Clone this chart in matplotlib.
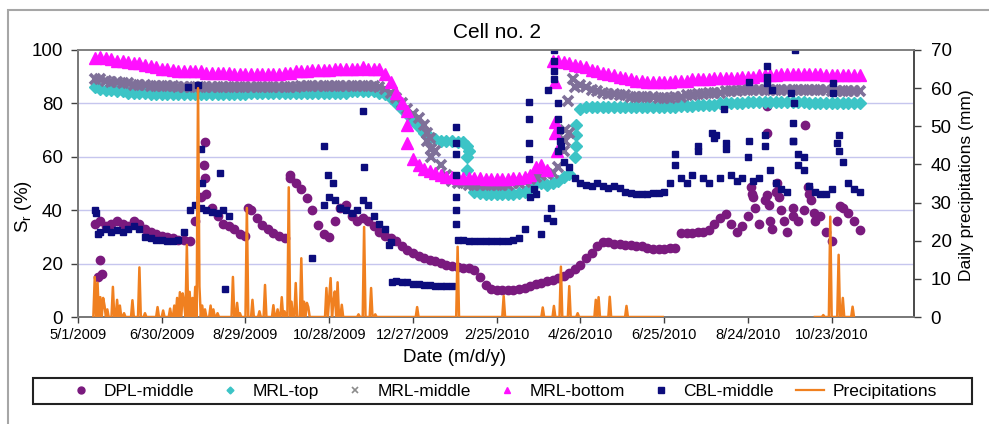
import numpy as np
import matplotlib
matplotlib.use("Agg")
import matplotlib.pyplot as plt
import pandas as pd
from matplotlib.lines import Line2D
from matplotlib.patches import Rectangle

plt.rcParams['font.family'] = ['Liberation Sans', 'DejaVu Sans']

# ---------------- data ----------------
START = pd.Timestamp('2009-05-01')
tick_days = [0, 60, 120, 180, 240, 300, 360, 420, 480, 540]
tick_labels = [f"{d.month}/{d.day}/{d.year}" for d in (START + pd.to_timedelta(tick_days, unit='D'))]
left_ticks = [0, 20, 40, 60, 80, 100]
right_ticks = [0, 10, 20, 30, 40, 50, 60, 70]

# sample days (days since 5/1/2009), every 4 days
sample_days = np.arange(12, 561, 4)

dpl_middle = [
    35, 36, 34, 35, 36, 35, 34, 36, 35, 33,
    32, 31, 30.5, 30, 29.5, 29, 29, 28.5, 36, 45,
    46, 41, 38, 35, 34, 33, 31, 30.5, 40, 37,
    34.5, 33, 31.5, 30.5, 29.5, 52, 50, 48, 44.5, 40,
    34.5, 31, 30, 36, 41, 42, 38, 36, 37, 36,
    34, 32, 30.5, 29.5, 28.5, 26.5, 25, 24, 23, 22,
    21.3, 20.8, 20.2, 19.6, 19.1, 18.7, 18.4, 18.2, 17.5, 15,
    12, 10.5, 10, 10, 10, 10.2, 10.5, 11, 11.5, 12.2,
    12.7, 13.3, 13.9, 14.5, 15.5, 16.5, 18, 19.5, 22, 24,
    26.5, 28, 28, 27.5, 27.5, 27, 27, 26.5, 26.5, 26,
    25.5, 25.5, 25.5, 26, 26, 31.5, 31.5, 31.5, 32, 32,
    32.5, 35, 37, 38.5, 35, 32, 34, 38, 45, 35,
    44, 36, 47, 40, 32, 38, 36, 40, 46, 36,
    38, 32, 28.5, 36, 41, 39, 36, 32.5]
dpl_extra_days = [14, 16, 17, 90, 91, 91, 122, 152, 482, 483, 485, 494, 495, 497,
                  501, 502, 506, 512, 523, 525, 527, 546, 494, 521, 494]
dpl_extra_vals = [15, 21.5, 16, 57, 65.5, 52, 41, 53, 48.8, 46, 41, 45.6, 42, 33,
                  50, 45, 36, 41, 48.8, 44, 39, 41.5, 69, 72, 79]

mrl_top = [
    86, 85.5, 85, 85, 84.5, 84.5, 84, 84, 84, 84,
    83.5, 83.5, 83.5, 83.5, 83.5, 83.5, 83.5, 83.5, 83.5, 83.5,
    83.5, 83.5, 83.5, 83.5, 83.5, 83.5, 83.5, 83.5, 84, 84,
    84, 84, 84, 84, 84, 84, 84, 84, 84, 84,
    84, 84, 84, 84, 84, 84, 84.5, 84.5, 84.5, 84.5,
    84.5, 84, 83.5, 82, 80, 78, 76, 73.5, 71, 69,
    67.5, 66.5, 66, 66, 66, 65.5, 65.5, 62, 47, 46.5,
    46, 46, 46, 46, 46, 46, 46.5, 47, 48.5, 50,
    50, 49.5, 50, 51, 52.5, 53.5, 60, 78, 78.5, 78.5,
    78.5, 78.5, 78.5, 78.5, 78.5, 78.5, 78.5, 78.5, 78.5, 78.5,
    78.5, 78.5, 78.5, 78.5, 78.5, 79, 79, 79, 79.5, 79.5,
    79.5, 79.5, 80, 80, 80, 80, 80, 80.5, 80.5, 80.5,
    80.5, 80.5, 80.5, 80.5, 80.5, 80.5, 80.5, 80.5, 80, 80,
    80, 80, 80, 80, 80, 80, 80, 80]
mrl_top_extra_days = [279, 279, 279, 357, 357, 357]
mrl_top_extra_vals = [64, 60, 55, 64, 68, 72]

mrl_middle = [
    89, 89, 88.5, 88, 88, 87.5, 87.5, 87, 87, 87,
    86.5, 86.5, 86.5, 86.5, 86.5, 86, 86, 86, 86, 86,
    86, 86, 86, 86, 86, 86, 86, 86, 86, 86,
    86, 86, 86, 86, 86, 86, 86, 86.5, 86.5, 86.5,
    86.5, 86.5, 86.5, 86.5, 86.5, 86.5, 86.5, 86.5, 86.5, 86.5,
    86.5, 86, 85.5, 84, 82, 80, 78, 76, 74.5, 72,
    67, 62, 57, 53, 51, 50, 50, 49.5, 49.5, 49.5,
    49.5, 49.5, 49.5, 49.5, 49.5, 50, 50, 50.5, 51.5, 52.5,
    53, 53.5, 54, 56, 62, 69, 86, 87, 86, 85,
    84.5, 84, 83.5, 83.5, 83, 83, 82.5, 82.5, 82.5, 82.5,
    82.5, 82, 82, 82, 82.5, 82.5, 83, 83, 83.5, 83.5,
    84, 84, 84, 84.5, 84.5, 84.5, 85, 85, 85, 85,
    85, 85, 85, 85, 85, 85, 85, 85, 85, 85,
    85, 85, 84.5, 84.5, 84.5, 84.5, 84.5, 84.5]
mrl_middle_extra_days = [250, 250, 253, 253, 349, 349, 351, 355]
mrl_middle_extra_vals = [69, 66, 63, 60, 70, 66, 81, 89]

mrl_bottom = [
    97, 97.5, 97, 96.5, 96, 96, 95.5, 95, 95, 94.5,
    94, 93.5, 93, 93, 92.5, 92, 92, 92, 92, 92,
    91.5, 91.5, 91.5, 91.5, 91.5, 91, 91, 91, 91, 91,
    91, 91, 91, 91, 91.5, 91.5, 92, 92, 92, 92.5,
    92.5, 92.5, 92.5, 93, 93, 93, 93, 93, 93.5, 93,
    93, 93, 91, 88, 84, 80, 77, 59, 57, 55.5,
    54.5, 54, 53, 52.5, 52.5, 52, 52, 52, 52, 52,
    51.5, 51.5, 51.5, 51.5, 51.5, 52, 52, 52.5, 53, 56,
    57, 55, 96, 96, 95.5, 95, 94.5, 94, 93.5, 92.5,
    92, 91.5, 91, 90.5, 90, 89.5, 89, 88.5, 88.5, 88,
    88, 88, 88, 88, 88.5, 88.5, 88.5, 89, 89, 89,
    89, 89.5, 89.5, 89.5, 89.5, 89.5, 90, 90, 90, 90.5,
    90.5, 90.5, 90.5, 91, 91, 91, 91, 91, 91, 91,
    91, 90.5, 90.5, 90.5, 90.5, 90.5, 90.5, 90.5]
mrl_bottom_extra_days = [236, 236, 342, 342, 342, 343]
mrl_bottom_extra_vals = [72, 65, 88, 73, 69, 62]

nan = np.nan
cbl_middle = [
    40, 32, 33, 32, 32.5, 32, 33, 34, 33, 30,
    29.5, 29, 29, 28.5, 28.5, 29, 32, 40, 42, 41,
    40, 39.5, 39, 40, 38, nan, nan, nan, nan, nan,
    nan, nan, nan, nan, nan, nan, nan, nan, nan, nan,
    nan, 42, 45, 44, 41, 40, 39, 40, 44, 42,
    38, 35, 33, 28, 13.5, 13, 13, 12.5, 12.5, 12,
    12, 11.5, 11.5, 11.5, 11.5, 29, 29, 28.5, 28.5, 28.5,
    28.5, 28.5, 28.5, 28.5, 28.5, 29, 29.5, 33, 45, 46,
    31, 37, 36, 62, 58, 56, 52, 50, 49.5, 49,
    50, 49, 48.5, 49, 48.5, 47, 46.5, 46, 46, 46,
    46.5, 46.5, 47, 50, 57, 52, 50, 53, 62, 52,
    50, 67, 52, 63, 53, 51, 52, 60, 51, 52,
    64, 55, 50, 48, 47, 66, 57, 55, 49, 47,
    46, 46, 48, 65, 58, 50, 48, 47]
cbl_extra_days = [13, 14, 79, 86, 88, 89, 102, 105, 168, 176, 179, 183, 204, 205, 223, 225,
                  271, 271, 271, 271, 271, 271, 271, 323, 323, 323, 323, 327, 337, 339,
                  341, 341, 341, 341, 344, 344, 345, 345, 346, 454, 463, 481, 481, 494,
                  494, 494, 497, 511, 513, 514, 512, 512, 541, 541, 545, 428, 444, 457,
                  464, 492, 516, 520, 545]
cbl_extra_vals = [39, 31, 86, 87, 63, 50, 54, 10.5, 22, 64, 53, 50, 77, 56, 27, 13,
                  71, 65, 61, 53, 45, 40, 35, 80.5, 74, 65, 59, 48, 85, 41,
                  100, 96, 92, 89, 80, 74, 70, 66, 64, 69, 78, 88, 66, 94,
                  90, 87.6, 85, 84, 80, 100, 72.6, 66, 87.6, 84, 68, 61, 64, 68,
                  65, 68, 61, 60, 62]

# daily precipitation (mm); rain days listed, other recorded days are dry
rain_days = [12, 14, 16, 18, 19, 21, 25, 28, 30, 33, 39, 44, 48, 57, 61, 66, 69, 71, 73, 75,
             76, 78, 80, 82, 84, 86, 87, 89, 91, 95, 97, 100, 111, 114, 116, 121, 125, 130,
             134, 140, 143, 146, 148, 151, 153, 156, 160, 162, 164, 165, 178, 180, 181, 183,
             184, 186, 189, 201, 205, 210, 213, 243, 272, 305, 333, 341, 346, 352, 358, 371,
             373, 381, 393, 534, 539, 545, 548, 555]
rain_mm = [10.5, 9, 5.2, 5, 3, 2, 7.9, 4.5, 3, 1, 4.4, 13, 1, 2.6, 1.7, 2.2, 3, 5, 6.5, 6.2,
           4, 18.9, 6.6, 5, 7.9, 60, 8, 3, 2, 3, 2, 1, 10.5, 3.7, 1, 28.6, 4.5, 1.5,
           8.4, 3.1, 2, 5.2, 1.5, 34, 4, 8.9, 15.4, 4, 3.7, 2.6, 7.6, 5, 10.2, 4,
           6.7, 9.1, 3.2, 0.7, 23.6, 7.6, 0.7, 2.6, 18.4, 5.5, 2.5, 2.9, 13.2, 8.1, 1, 4.5,
           5.2, 5.3, 2.9, 0.5, 26.3, 16.3, 5, 2.7]
precip_first_day, precip_last_day = 11, 556
precip_gap = (420, 527)   # no records

# ---------------- figure ----------------
W, H = 989, 424
fig = plt.figure(figsize=(W / 100, H / 100), dpi=100)
fig.patch.set_facecolor('white')

# outer chart border
fig.patches.append(Rectangle((8 / W, -0.05), 1.2, 1 - 10 / H + 0.05, transform=fig.transFigure,
                             fill=False, edgecolor='#a6a6a6', lw=1.5, zorder=0))

ax = fig.add_axes([78 / W, 1 - 317 / H, 836 / W, 267 / H])
ax2 = ax.twinx()

C_DPL = '#7a1a7e'
C_TOP = '#3cc4c6'
C_MID = '#7f7099'
C_BOT = '#ff10ff'
C_CBL = '#0c0c7c'
C_PRE = '#f08020'

def cat(a, b):
    return np.concatenate([np.asarray(a, float), np.asarray(b, float)])

ax.plot(cat(sample_days, dpl_extra_days), cat(dpl_middle, dpl_extra_vals), ls='none', marker='o',
        ms=6, color=C_DPL, mec=C_DPL, zorder=3)
ax.plot(cat(sample_days, mrl_top_extra_days), cat(mrl_top, mrl_top_extra_vals), ls='none', marker='D',
        ms=6.5, color=C_TOP, mec=C_TOP, zorder=3)
ax.plot(cat(sample_days, mrl_middle_extra_days), cat(mrl_middle, mrl_middle_extra_vals), ls='none',
        marker='x', ms=7.5, mew=2.6, color=C_MID, zorder=3)
ax.plot(cat(sample_days, mrl_bottom_extra_days), cat(mrl_bottom, mrl_bottom_extra_vals), ls='none',
        marker='^', ms=8.5, color=C_BOT, mec=C_BOT, zorder=3)
ax.plot(cat(sample_days, cbl_extra_days), cat(cbl_middle, cbl_extra_vals), ls='none', marker='s',
        ms=4.8, color=C_CBL, mec=C_CBL, zorder=3)

pdays = np.arange(precip_first_day, precip_last_day + 1)
pvals = np.zeros(len(pdays))
for d, v in zip(rain_days, rain_mm):
    pvals[d - precip_first_day] = v
pvals[(pdays >= precip_gap[0]) & (pdays <= precip_gap[1])] = np.nan
ax2.plot(pdays, pvals, color=C_PRE, lw=1.8, zorder=4)

# axes styling
ax.set_xlim(0, 599)
ax.set_ylim(0, 100)
ax2.set_ylim(0, 70)
ax.set_xticks(tick_days)
ax.set_xticklabels(tick_labels, fontsize=10.5)
ax.set_yticks(left_ticks)
ax.set_yticklabels([str(t) for t in left_ticks], fontsize=13.5)
ax2.set_yticks(right_ticks)
ax2.set_yticklabels([str(t) for t in right_ticks], fontsize=13.5)
ax.tick_params(axis='x', direction='out', length=4, width=1, color='#404040', pad=4)
ax.tick_params(axis='y', direction='out', length=5, width=1, color='#404040', pad=6)
ax2.tick_params(axis='y', direction='out', length=5, width=1, color='#404040', pad=7)
for a in (ax, ax2):
    for s in a.spines.values():
        s.set_color('#808080')
        s.set_linewidth(1.2)
ax.spines['left'].set_color('#404040')
ax.spines['bottom'].set_color('#404040')
ax2.spines['right'].set_color('#404040')
ax.set_axisbelow(True)
for g in [20, 40, 60, 80]:
    ax.axhline(g, color='#c6c6ee', lw=1.0, zorder=0)

fig.text(497 / W, 1 - 32 / H, 'Cell no. 2', ha='center', va='center', fontsize=15)
fig.text(455 / W, 1 - 357 / H, 'Date (m/d/y)', ha='center', va='center', fontsize=13.5)
fig.text(24 / W, 1 - 207 / H, r'S$_\mathregular{r}$ (%)', ha='center', va='center', rotation=90,
         fontsize=13.5)
fig.text(966 / W, 1 - 185 / H, 'Daily precipitations (mm)', ha='center', va='center',
         rotation=90, fontsize=12.5)

# legend: frame drawn as box, entries spread inside
fig.patches.append(Rectangle((33 / W, 1 - 404 / H), 939 / W, 26 / H, transform=fig.transFigure,
                             fill=True, facecolor='white', edgecolor='#222222', lw=1.5, zorder=5))
handles = [
    Line2D([], [], ls='none', marker='o', ms=5, color=C_DPL),
    Line2D([], [], ls='none', marker='D', ms=3.5, color=C_TOP),
    Line2D([], [], ls='none', marker='x', ms=5, mew=1.2, color='#8c8c8c'),
    Line2D([], [], ls='none', marker='^', ms=5, color=C_BOT),
    Line2D([], [], ls='none', marker='s', ms=4.5, color=C_CBL),
    Line2D([], [], color=C_PRE, lw=1.6),
]
labels = ['DPL-middle', 'MRL-top', 'MRL-middle', 'MRL-bottom', 'CBL-middle', 'Precipitations']
leg = fig.legend(handles, labels, ncol=6, loc='lower left', mode='expand',
                 bbox_to_anchor=(62 / W, 1 - 404 / H, 880 / W, 26 / H),
                 fontsize=12.5, frameon=False, borderaxespad=0,
                 handlelength=1.6, handletextpad=0.5, borderpad=0.3, columnspacing=0.5)
leg.set_zorder(6)

fig.savefig('out.png', dpi=100)
